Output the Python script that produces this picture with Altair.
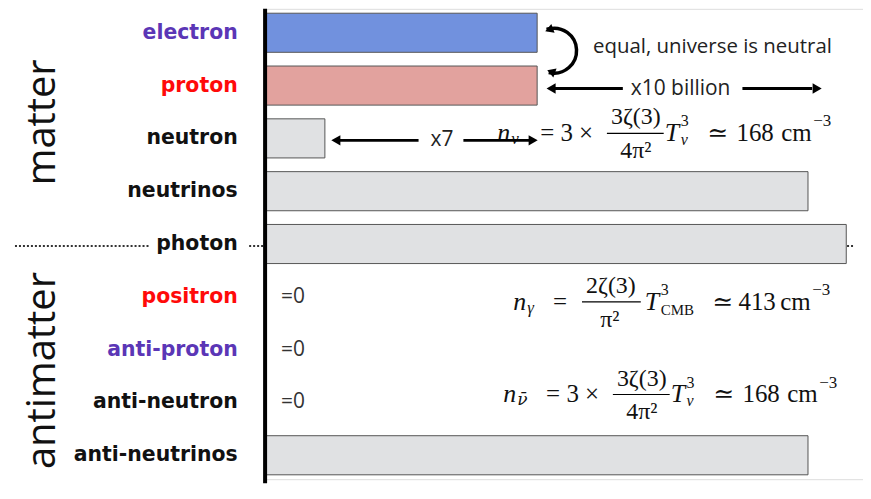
import altair as alt
import pandas as pd

# ---- data ----
particles = ["electron", "proton", "neutron", "neutrinos", "photon",
             "positron", "anti-proton", "anti-neutron", "anti-neutrinos"]
amounts = [4.55, 4.55, 1.0, 9.08, 9.72, 0, 0, 0, 9.08]
bar_colors = ["#7191de", "#e2a29e", "#e0e1e3", "#e0e1e3", "#e0e1e3",
              "#e0e1e3", "#e0e1e3", "#e0e1e3", "#e0e1e3"]
purple_labels = ["electron", "anti-proton"]
red_labels = ["proton", "positron"]

df = pd.DataFrame({"particle": particles, "amount": amounts})

# ---- geometry of the plot area on the page ----
X0, Y0 = 266, 8
W, H = 600, 472
BOTTOM = 4


def px(x):
    return x - X0


def py(y):
    return y - Y0


dummy = pd.DataFrame({"k": [0]})


def txt(s, x, y, size, font="Open Sans", align="left", style="normal",
        weight="normal", angle=None, baseline="middle", color="#111111"):
    props = dict(text=s, align=align, baseline=baseline, fontSize=size,
                 font=font, fontStyle=style, fontWeight=weight, color=color)
    if angle is not None:
        props["angle"] = angle
    return alt.Chart(dummy).mark_text(**props).encode(
        x=alt.value(px(x)), y=alt.value(py(y)))


def hline(x1, x2, y, width=3, color="#000000", dash=None):
    props = dict(color=color, strokeWidth=width)
    if dash:
        props["strokeDash"] = dash
    return alt.Chart(dummy).mark_rule(**props).encode(
        x=alt.value(px(x1)), x2=alt.value(px(x2)), y=alt.value(py(y)))


def head(x, y, shape, size=110, angle=None):
    props = dict(shape=shape, size=size, filled=True, color="#000000", opacity=1)
    if angle is not None:
        props["angle"] = angle
    return alt.Chart(dummy).mark_point(**props).encode(
        x=alt.value(px(x)), y=alt.value(py(y)))


label_expr = (
    "indexof(" + str(purple_labels) + ", datum.value) >= 0 ? '#5b36b6' : "
    "indexof(" + str(red_labels) + ", datum.value) >= 0 ? '#ff0a0a' : '#111111'"
)

yenc = alt.Y("particle:N", sort=particles,
             scale=alt.Scale(paddingInner=0.26, paddingOuter=0.083),
             axis=alt.Axis(title=None, domain=False, ticks=False, grid=False,
                           labelFont="DejaVu Sans", labelFontWeight="bold",
                           labelFontSize=20.5, labelPadding=28,
                           labelColor={"expr": label_expr}))
xenc = alt.X("amount:Q", scale=alt.Scale(domain=[0, 10], nice=False), axis=None)

# dotted separator between matter and antimatter (behind the bars)
dots = [
    hline(15, 150, 246, width=2.2, color="#333333", dash=[2, 2]),
    hline(250, 858, 246, width=2.2, color="#333333", dash=[2, 2]),
]

bars = alt.Chart(df).mark_bar(stroke="#555555", strokeWidth=1).encode(
    x=xenc, y=yenc,
    color=alt.Color("particle:N", scale=alt.Scale(domain=particles, range=bar_colors),
                    legend=None),
)

zeros = alt.Chart(df).transform_filter("datum.amount == 0").transform_calculate(
    lab="'=' + datum.amount"
).mark_text(align="left", dx=16, font="Open Sans", fontSize=21, color="#333333").encode(
    x=xenc, y=yenc, text="lab:N")

axis_line = alt.Chart(dummy).mark_rule(color="#000000", strokeWidth=4).encode(
    x=alt.value(0), y=alt.value(0), y2=alt.value(H + BOTTOM))

# big side titles
side = [
    txt("matter", 55, 122, 40, align="center", baseline="alphabetic", angle=270),
    txt("antimatter", 55, 371, 40, align="center", baseline="alphabetic", angle=270),
]

# annotations
ann = [
    txt("equal, universe is neutral", 595, 46, 20.5, color="#222222"),
    txt("x10 billion", 633, 88, 21, color="#222222"),
    hline(556, 625, 88), head(553, 88, "triangle-left"),
    hline(745, 815, 88), head(820, 88, "triangle-right"),
    txt("x7", 432, 140, 21, color="#222222"),
]

# curved double arrow between electron and proton
arc = alt.Chart(dummy).mark_arc(
    radius=22.8, radius2=22.3, theta=6.01, theta2=9.6,
    stroke="#000000", strokeWidth=3, fill="#000000"
).encode(x=alt.value(px(556)), y=alt.value(py(50)))
curve = [arc, head(551, 29, "triangle-left", size=90, angle=340),
         head(553, 71, "triangle-left", size=90, angle=20)]

SERIF = "Liberation Serif"


def nu_formula(dx, yc, sub, subfont=SERIF):
    out = [
        txt("n", 505 + dx, yc, 26, font=SERIF, style="italic"),
        txt(sub, 519 + dx, yc + 6, 17, font=subfont, style="italic"),
        txt("= 3 \u00d7", 548 + dx, yc, 25, font=SERIF),
        txt("3\u03b6(3)", 644 + dx, yc - 16, 24, font=SERIF, align="center"),
        hline(615 + dx, 672 + dx, yc, width=1.2),
        txt("4\u03c0\u00b2", 644 + dx, yc + 18, 24, font=SERIF, align="center"),
        txt("T", 673 + dx, yc, 26, font=SERIF, style="italic"),
        txt("3", 689 + dx, yc - 12, 16, font=SERIF),
        txt("\u03bd", 689 + dx, yc + 7, 16, font=SERIF, style="italic"),
        txt("\u2243", 716 + dx, yc, 25, font="DejaVu Serif"),
        txt("168", 745 + dx, yc, 25, font=SERIF),
        txt("cm", 790 + dx, yc, 25, font=SERIF),
        txt("\u22123", 822 + dx, yc - 12, 17, font=SERIF),
    ]
    return out


f1 = nu_formula(-6, 133, "\u03bd")
f3 = nu_formula(0, 395, "\u03bd\u0304", subfont="DejaVu Serif")
yc2 = 302
f2 = [
    txt("n", 515, yc2, 26, font=SERIF, style="italic"),
    txt("\u03b3", 529, yc2 + 6, 17, font=SERIF, style="italic"),
    txt("=", 555, yc2, 25, font=SERIF),
    txt("2\u03b6(3)", 613, yc2 - 16, 24, font=SERIF, align="center"),
    hline(584, 643, yc2, width=1.2),
    txt("\u03c0\u00b2", 612, yc2 + 18, 24, font=SERIF, align="center"),
    txt("T", 647, yc2, 26, font=SERIF, style="italic"),
    txt("3", 663, yc2 - 12, 16, font=SERIF),
    txt("CMB", 663, yc2 + 8, 15, font=SERIF),
    txt("\u2243", 715, yc2, 25, font="DejaVu Serif"),
    txt("413", 741, yc2, 25, font=SERIF),
    txt("cm", 783, yc2, 25, font=SERIF),
    txt("\u22123", 815, yc2 - 12, 17, font=SERIF),
]

# arrows around x7 (drawn over the first formula)
x7_arrows = [
    hline(340, 420, 140), head(337, 140, "triangle-left"),
    hline(465, 532, 140), head(535, 140, "triangle-right"),
]

layers = dots + [bars, zeros, axis_line] + side + ann + curve + f1 + f2 + f3 + x7_arrows

chart = alt.layer(*layers).properties(
    width=W, height=H,
    autosize=alt.AutoSizeParams(type="none"),
    padding={"left": 258, "top": 0, "right": 0, "bottom": BOTTOM},
).configure_view(strokeWidth=0, stroke="transparent").configure(background="white")

chart.save("out.html", embed_options={"renderer": "svg", "actions": False})
